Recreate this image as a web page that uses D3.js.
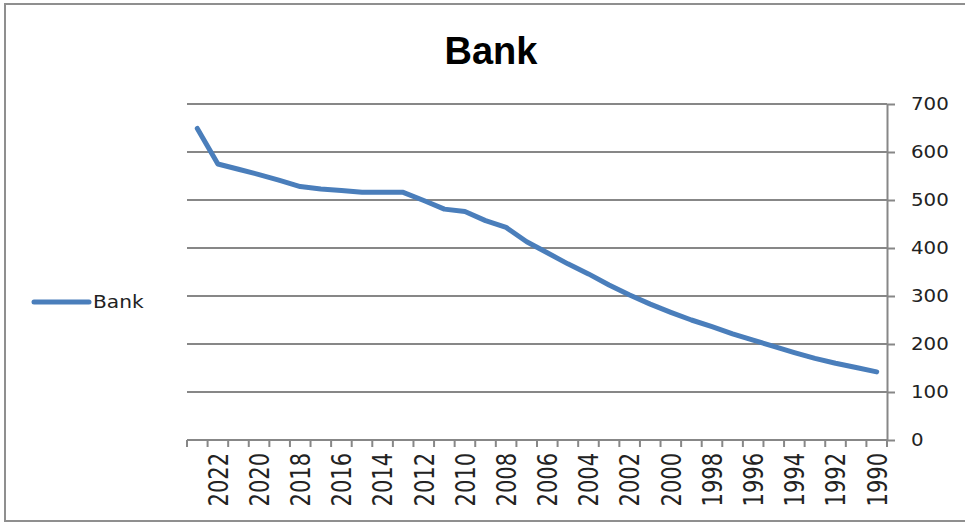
<!DOCTYPE html>
<html>
<head>
<meta charset="utf-8">
<script src="https://cdn.jsdelivr.net/npm/d3@7"></script>
<style>
    body { margin: 0; background: #fff; }
</style>
</head>
<body>
<div id="chart"></div>
<script>
// data
const years = [2023, 2022, 2021, 2020, 2019, 2018, 2017, 2016, 2015, 2014, 2013, 2012,
    2011, 2010, 2009, 2008, 2007, 2006, 2005, 2004, 2003, 2002, 2001, 2000,
    1999, 1998, 1997, 1996, 1995, 1994, 1993, 1992, 1991, 1990];
const bank = [649, 575, 564, 553, 541, 528, 523, 520, 516, 516, 516, 499,
    481, 476, 457, 443, 413, 390, 367, 346, 323, 302, 283, 266,
    250, 236, 221, 208, 195, 182, 170, 160, 151, 142];
const yTicks = [0, 100, 200, 300, 400, 500, 600, 700];
const xLabels = [2022, 2020, 2018, 2016, 2014, 2012, 2010, 2008, 2006, 2004, 2002, 2000,
    1998, 1996, 1994, 1992, 1990];
const seriesName = 'Bank';

const width = 965,
    height = 524;
// plot area (top is a window global, so use other names)
const plotL = 187, plotR = 887, plotT = 104, plotB = 440;
const grey = '#878787';
const blue = '#4a7ebb';

const svg = d3.select('#chart')
    .append('svg')
    .attr('width', width)
    .attr('height', height);

// 外框
svg.append('rect')
    .attr('x', 5).attr('y', 4)
    .attr('width', 970).attr('height', 517)
    .attr('fill', 'none')
    .attr('stroke', '#8f8f8f')
    .attr('stroke-width', 2);

// title
svg.append('text')
    .attr('x', 491).attr('y', 64)
    .attr('text-anchor', 'middle')
    .attr('font-family', 'Liberation Sans, Arial, sans-serif')
    .attr('font-weight', 'bold')
    .attr('font-size', 38)
    .text(seriesName);

// scales
const x = d3.scaleBand()
    .domain(years)
    .range([plotL, plotR])
    .padding(0);

const y = d3.scaleLinear()
    .domain([0, 700])
    .range([plotB, plotT]);

// gridlines
svg.append('g')
    .selectAll('line')
    .data(yTicks.slice(1))
    .enter()
    .append('line')
    .attr('x1', plotL).attr('x2', plotR)
    .attr('y1', d => y(d)).attr('y2', d => y(d))
    .attr('stroke', grey)
    .attr('stroke-width', 2);

// right axis
const yAxis = svg.append('g')
    .attr('transform', `translate(${plotR},0)`)
    .call(d3.axisRight(y).tickValues(yTicks).tickSize(8).tickSizeOuter(0));
yAxis.select('.domain').attr('stroke', grey).attr('stroke-width', 2);
yAxis.selectAll('.tick line').attr('stroke', grey).attr('stroke-width', 2);
yAxis.selectAll('.tick text')
    .attr('font-family', 'DejaVu Sans, sans-serif')
    .attr('font-size', 18)
    .attr('fill', '#222')
    .attr('x', null)
    .attr('transform', 'translate(24,0) scale(1.1,1)');
yAxis.append('line')
    .attr('y1', plotB).attr('y2', plotB + 7)
    .attr('stroke', grey).attr('stroke-width', 2);

// x axis line + tick marks on category edges
const xAxis = svg.append('g');
xAxis.append('line')
    .attr('x1', plotL).attr('x2', plotR)
    .attr('y1', plotB).attr('y2', plotB)
    .attr('stroke', grey).attr('stroke-width', 2);
const edges = years.map(d => x(d)).concat([x(years[years.length - 1]) + x.bandwidth()]);
xAxis.selectAll('.edge')
    .data(edges)
    .enter()
    .append('line')
    .attr('class', 'edge')
    .attr('x1', d => d).attr('x2', d => d)
    .attr('y1', plotB).attr('y2', plotB + 7)
    .attr('stroke', grey).attr('stroke-width', 2);

// 年份標籤 (直排)
xAxis.selectAll('.lbl')
    .data(xLabels)
    .enter()
    .append('text')
    .attr('class', 'lbl')
    .attr('transform', d => `translate(${x(d) + x.bandwidth() / 2},453) scale(1.3,1) rotate(-90)`)
    .attr('text-anchor', 'end')
    .attr('dy', '0.36em')
    .attr('font-family', 'DejaVu Sans, sans-serif')
    .attr('font-size', 21)
    .attr('fill', '#222')
    .text(d => d);

// line
const line = d3.line()
    .x((d, i) => x(years[i]) + x.bandwidth() / 2)
    .y(d => y(d));

svg.append('path')
    .datum(bank)
    .attr('d', line)
    .attr('fill', 'none')
    .attr('stroke', blue)
    .attr('stroke-width', 5)
    .attr('stroke-linejoin', 'round')
    .attr('stroke-linecap', 'round');

// legend
const legend = svg.append('g');
legend.append('line')
    .attr('x1', 34).attr('x2', 89)
    .attr('y1', 302).attr('y2', 302)
    .attr('stroke', blue)
    .attr('stroke-width', 5)
    .attr('stroke-linecap', 'round');
legend.append('text')
    .attr('transform', 'translate(93,308) scale(1.12,1)')
    .attr('font-family', 'DejaVu Sans, sans-serif')
    .attr('font-size', 18)
    .attr('fill', '#222')
    .text(seriesName);
</script>
</body>
</html>
